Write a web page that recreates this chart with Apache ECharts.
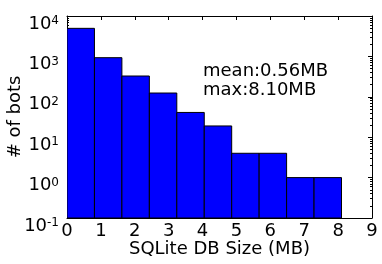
<!DOCTYPE html>
<html>
<head>
<meta charset="utf-8">
<script src="https://cdn.jsdelivr.net/npm/echarts@6/dist/echarts.min.js"></script>
<style>
html,body{margin:0;padding:0;background:#fff;}
#c{width:382px;height:264px;}
</style>
</head>
<body>
<div id="c"></div>
<script>
// Histogram data
const binEdges = [0, 0.81, 1.62, 2.43, 3.24, 4.05, 4.86, 5.67, 6.48, 7.29, 8.10];
const counts = [4950, 930, 327, 124, 41, 19, 4, 4, 1, 1];
const xTicks = [0, 1, 2, 3, 4, 5, 6, 7, 8, 9];
const yMajorTicks = [0.1, 1, 10, 100, 1000, 10000];
const yMinorTicks = [];
for (const d of [0.1, 1, 10, 100, 1000]) for (let k = 2; k <= 9; k++) yMinorTicks.push(+(d * k).toPrecision(3));
const annotation = ['mean:0.56MB', 'max:8.10MB'];

const FONT = 'DejaVu Sans';
const FS = 18;
const data = counts.map((c, i) => [binEdges[i], binEdges[i + 1], c]);

const chart = echarts.init(document.getElementById('c'), null, {renderer: 'canvas'});
const lineStyle = {color: '#000', width: 1};
const yLabelFmt = v => {
  const e = Math.round(Math.log10(v));
  return '{b|10}{e|' + e + '}';
};
const yRich = {
  b: {fontFamily: FONT, fontSize: FS, color: '#000', lineHeight: 18, verticalAlign: 'bottom'},
  e: {fontFamily: FONT, fontSize: 12, color: '#000', lineHeight: 12, verticalAlign: 'top', padding: [0, 0, 8, 0]}
};
const grid = {left: 67, right: 10, top: 16, bottom: 46, outerBoundsMode: 'none', containLabel: false};
chart.setOption({
  animation: false,
  grid: grid,
  xAxis: [{
    type: 'value', position: 'bottom', min: 0, max: 9, interval: 1,
    axisLine: {show: true, lineStyle: lineStyle},
    axisTick: {show: true, inside: true, length: 4, lineStyle: lineStyle},
    axisLabel: {show: true, fontFamily: FONT, fontSize: FS, color: '#000', margin: 4,
      customValues: xTicks},
    splitLine: {show: false},
    name: 'SQLite DB Size (MB)', nameLocation: 'middle', nameGap: 22, nameMoveOverlap: false,
    nameTextStyle: {fontFamily: FONT, fontSize: FS, color: '#000', verticalAlign: 'top'}
  }, {
    type: 'value', position: 'top', min: 0, max: 9, interval: 1,
    axisLine: {show: true, lineStyle: lineStyle},
    axisTick: {show: true, inside: true, length: 4, lineStyle: lineStyle},
    axisLabel: {show: false}, splitLine: {show: false}
  }],
  yAxis: [{
    type: 'log', logBase: 10, position: 'left', min: 0.1, max: 10000,
    axisLine: {show: true, lineStyle: lineStyle},
    axisTick: {show: true, inside: true, length: 4, lineStyle: lineStyle, customValues: yMajorTicks},
    axisLabel: {show: true, formatter: yLabelFmt, rich: yRich, margin: 8, padding: [16, 0, 0, 0],
      customValues: yMajorTicks},
    splitLine: {show: false},
    name: '# of bots', nameLocation: 'middle', nameGap: 43, nameRotate: 90, nameMoveOverlap: false,
    nameTextStyle: {fontFamily: FONT, fontSize: FS, color: '#000'}
  }, {
    type: 'log', logBase: 10, position: 'left', min: 0.1, max: 10000,
    axisLine: {show: false},
    axisTick: {show: true, inside: true, length: 2, lineStyle: lineStyle, customValues: yMinorTicks},
    axisLabel: {show: false}, splitLine: {show: false}
  }, {
    type: 'log', logBase: 10, position: 'right', min: 0.1, max: 10000,
    axisLine: {show: true, lineStyle: lineStyle},
    axisTick: {show: true, inside: true, length: 4, lineStyle: lineStyle, customValues: yMajorTicks},
    axisLabel: {show: false}, splitLine: {show: false}
  }, {
    type: 'log', logBase: 10, position: 'right', min: 0.1, max: 10000,
    axisLine: {show: false},
    axisTick: {show: true, inside: true, length: 2, lineStyle: lineStyle, customValues: yMinorTicks},
    axisLabel: {show: false}, splitLine: {show: false}
  }],
  series: [{
    type: 'custom',
    xAxisIndex: 0, yAxisIndex: 0,
    data: data,
    encode: {x: [0, 1], y: 2},
    clip: true,
    renderItem: function (params, api) {
      const x0 = api.value(0), x1 = api.value(1), c = api.value(2);
      const p0 = api.coord([x0, c]);
      const p1 = api.coord([x1, 0.1]);
      return {
        type: 'rect',
        shape: {x: p0[0], y: p0[1], width: p1[0] - p0[0], height: p1[1] - p0[1]},
        style: {fill: '#0000ff', stroke: '#000', lineWidth: 1}
      };
    },
    z: 1
  }],
  graphic: [{
    type: 'text', left: 203, top: 62, z: 10,
    style: {text: annotation.join('\n'), font: FS + 'px "DejaVu Sans"', fill: '#000', lineHeight: 19}
  }]
});
</script>
</body>
</html>
